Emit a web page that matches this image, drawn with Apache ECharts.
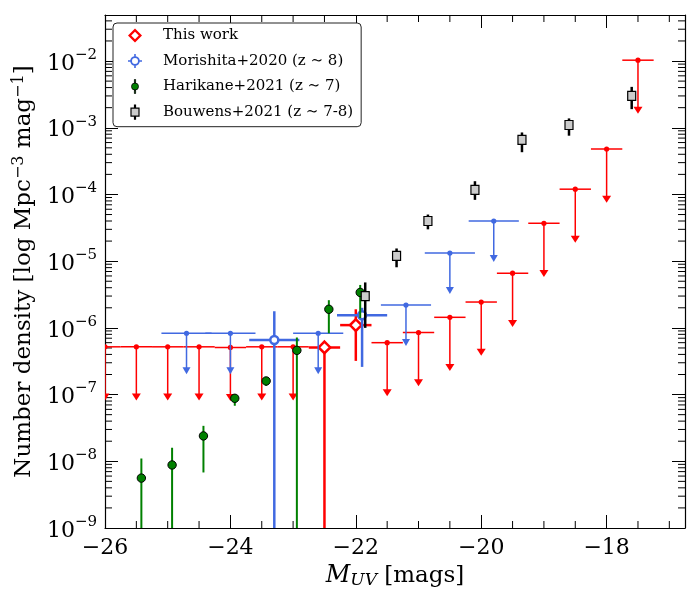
<!DOCTYPE html>
<html><head><meta charset="utf-8">
<script src="https://cdn.jsdelivr.net/npm/echarts@6/dist/echarts.min.js"></script>
<style>html,body{margin:0;padding:0;background:#fff}#c{width:700px;height:600px}</style>
</head><body><div id="c"></div><script>
// ---------- axis ranges & ticks ----------
const X_MIN = -26, X_MAX = -16.75, Y_MIN = 1e-9, Y_MAX = 0.049;
const xMinorTicks = [-25.5,-25,-24.5,-23.5,-23,-22.5,-21.5,-21,-20.5,-19.5,-19,-18.5,-17.5,-17];
const yDecades = [1e-9,1e-8,1e-7,1e-6,1e-5,1e-4,1e-3,1e-2];
const yMinorMult = [2,3,4,5,6,7,8,9];

// ---------- This work ----------
const twLimX = [-26,-25.5,-25,-24.5,-24,-23.5,-23,-21.5,-21,-20.5,-20,-19.5,-19,-18.5,-18,-17.5];
const twLimY = [5.2e-7,5.2e-7,5.2e-7,5.2e-7,5.1e-7,5.2e-7,5.2e-7,6.0e-7,8.5e-7,1.44e-6,2.44e-6,6.6e-6,3.7e-5,1.2e-4,4.8e-4,1.03e-2];
const twLimXerr = 0.25;
const twLimTipFrac = 0.18;
const twX = [-22.5, -22.0];
const twY = [5.1e-7, 1.1e-6];
const twLo = [0, 3.2e-7];
const twHi = [5.1e-7, 1.9e-6];
const twXerr = [0.25, 0.25];

// ---------- Morishita+2020 ----------
const moLimX = [-24.7,-24.0,-22.6,-21.2,-20.5,-19.8];
const moLimY = [8.3e-7,8.3e-7,8.3e-7,2.2e-6,1.32e-5,4.0e-5];
const moLimXerr = 0.4;
const moLimTipFrac = 0.28;
const moX = [-23.3, -21.9];
const moY = [6.6e-7, 1.55e-6];
const moLo = [0, 2.6e-7];
const moHi = [1.78e-6, 2.0e-6];
const moXerr = [0.4, 0.4];

// ---------- Harikane+2021 ----------
const haX = [-25.42,-24.93,-24.43,-23.93,-23.43,-22.94,-22.43,-21.93];
const haY = [5.6e-9,8.8e-9,2.4e-8,8.8e-8,1.6e-7,4.6e-7,1.9e-6,3.4e-6];
const haLo = [0,0,6.8e-9,6.8e-8,1.35e-7,0,8.3e-7,1.4e-6];
const haHi = [1.1e-8,1.6e-8,3.4e-8,1.0e-7,1.8e-7,7.2e-7,2.6e-6,4.4e-6];

// ---------- Bouwens+2021 ----------
const boX = [-21.85,-21.35,-20.85,-20.10,-19.35,-18.60,-17.60];
const boY = [3.0e-6,1.2e-5,4.0e-5,1.17e-4,6.6e-4,1.1e-3,3.0e-3];
const boLo = [1.0e-6,8.1e-6,3.0e-5,8.3e-5,4.3e-4,7.6e-4,1.9e-3];
const boHi = [4.8e-6,1.55e-5,5.0e-5,1.58e-4,8.5e-4,1.38e-3,4.1e-3];

const names = ['This work', 'Morishita+2020 (z \u223C 8)', 'Harikane+2021 (z \u223C 7)', 'Bouwens+2021 (z \u223C 7-8)'];

const RED = '#ff0000', BLUE = '#4169e1', GREEN = '#008000', GRAY = '#cccccc';
const SERIF = 'DejaVu Serif';
const FLOOR = 1e-13;

function measureSeries(name, xs, ys, los, his, xerrs, st) {
  const data = xs.map((x, i) => [x, ys[i], los[i], his[i], xerrs ? xerrs[i] : 0]);
  return {
    type: 'custom', name, coordinateSystem: 'cartesian2d', encode: {x: 0, y: 1},
    clip: true, silent: true, data, itemStyle: {color: st.color},
    renderItem(params, api) {
      const x = api.value(0), y = api.value(1), lo = api.value(2), hi = api.value(3), xe = api.value(4);
      const c = api.coord([x, y]);
      const pl = api.coord([x, Math.max(lo, FLOOR)]);
      const ph = api.coord([x, Math.max(hi, FLOOR)]);
      const ls = {stroke: st.bar, lineWidth: st.barWidth};
      const ch = [];
      if (xe > 0) {
        const a = api.coord([x - xe, y]), b = api.coord([x + xe, y]);
        ch.push({type: 'line', shape: {x1: a[0], y1: a[1], x2: b[0], y2: b[1]}, style: ls});
      }
      ch.push({type: 'line', shape: {x1: c[0], y1: pl[1], x2: c[0], y2: ph[1]}, style: ls});
      ch.push(st.marker(c[0], c[1]));
      return {type: 'group', children: ch};
    }
  };
}

function limitSeries(name, xs, ys, xerr, frac, st) {
  const data = xs.map((x, i) => [x, ys[i], ys[i] * frac, xerr]);
  return {
    type: 'custom', name, coordinateSystem: 'cartesian2d', encode: {x: 0, y: 1},
    clip: true, silent: true, data, itemStyle: {color: st.color},
    renderItem(params, api) {
      const x = api.value(0), y = api.value(1), t = api.value(2), xe = api.value(3);
      const c = api.coord([x, y]);
      const p = api.coord([x, t]);
      const a = api.coord([x - xe, y]), b = api.coord([x + xe, y]);
      const ls = {stroke: st.color, lineWidth: 1.5};
      const w = st.triW, hUp = st.triUp, hDn = st.triDn;
      return {type: 'group', children: [
        {type: 'line', shape: {x1: a[0], y1: a[1], x2: b[0], y2: b[1]}, style: ls},
        {type: 'line', shape: {x1: c[0], y1: c[1], x2: p[0], y2: p[1]}, style: ls},
        {type: 'circle', shape: {cx: c[0], cy: c[1], r: 2.6}, style: {fill: st.color}},
        {type: 'polygon', shape: {points: [[p[0] - w, p[1] - hUp], [p[0] + w, p[1] - hUp], [p[0], p[1] + hDn]]}, style: {fill: st.color}}
      ]};
    }
  };
}

// minor ticks drawn at axis positions through the axis scales
const xMinorData = xMinorTicks.map(v => [v, Y_MIN]);
const yMinorData = [];
yDecades.forEach(d => yMinorMult.forEach(m => { const v = m * d; if (v < Y_MAX) yMinorData.push([X_MIN, v]); }));

const MINOR = 7, MAJOR = 13;
const tickStyle = {stroke: '#000', lineWidth: 1};

const series = [
  {
    type: 'custom', name: 'xminor', coordinateSystem: 'cartesian2d', encode: {x: 0, y: 1}, silent: true,
    data: xMinorData,
    renderItem(params, api) {
      const v = api.value(0);
      const b = api.coord([v, Y_MIN]), t = api.coord([v, Y_MAX]);
      return {type: 'group', children: [
        {type: 'line', shape: {x1: b[0], y1: b[1], x2: b[0], y2: b[1] - MINOR}, style: tickStyle},
        {type: 'line', shape: {x1: t[0], y1: t[1], x2: t[0], y2: t[1] + MINOR}, style: tickStyle}
      ]};
    }
  },
  {
    type: 'custom', name: 'yminor', coordinateSystem: 'cartesian2d', encode: {x: 0, y: 1}, silent: true,
    data: yMinorData,
    renderItem(params, api) {
      const v = api.value(1);
      const l = api.coord([X_MIN, v]), r = api.coord([X_MAX, v]);
      return {type: 'group', children: [
        {type: 'line', shape: {x1: l[0], y1: l[1], x2: l[0] + MINOR, y2: l[1]}, style: tickStyle},
        {type: 'line', shape: {x1: r[0], y1: r[1], x2: r[0] - MINOR, y2: r[1]}, style: tickStyle}
      ]};
    }
  },
  limitSeries(names[0], twLimX, twLimY, twLimXerr, twLimTipFrac, {color: RED, triW: 4.5, triUp: 3, triDn: 4}),
  measureSeries(names[0], twX, twY, twLo, twHi, twXerr, {color: RED, bar: RED, barWidth: 2.5,
    marker: (x, y) => ({type: 'polygon', shape: {points: [[x, y - 5.8], [x + 5.8, y], [x, y + 5.8], [x - 5.8, y]]}, style: {fill: '#fff', stroke: RED, lineWidth: 2.5}})}),
  limitSeries(names[1], moLimX, moLimY, moLimXerr, moLimTipFrac, {color: BLUE, triW: 4, triUp: 3, triDn: 4}),
  measureSeries(names[1], moX, moY, moLo, moHi, moXerr, {color: BLUE, bar: BLUE, barWidth: 2.5,
    marker: (x, y) => ({type: 'circle', shape: {cx: x, cy: y, r: 4}, style: {fill: '#fff', stroke: BLUE, lineWidth: 2.5}})}),
  measureSeries(names[2], haX, haY, haLo, haHi, null, {color: GREEN, bar: GREEN, barWidth: 2,
    marker: (x, y) => ({type: 'circle', shape: {cx: x, cy: y, r: 4.2}, style: {fill: GREEN, stroke: '#000', lineWidth: 1}})}),
  measureSeries(names[3], boX, boY, boLo, boHi, null, {color: '#000', bar: '#000', barWidth: 2.5,
    marker: (x, y) => ({type: 'rect', shape: {x: x - 4, y: y - 4.5, width: 8, height: 9}, style: {fill: GRAY, stroke: '#000', lineWidth: 1.2}})})
];

const ICON_TW = 'path://M7 0 L14 7 L7 14 L0 7 Z M7 3.2 L3.2 7 L7 10.8 L10.8 7 Z';
const ICON_MO = 'path://M0 6.2 L2.4 6.2 L2.4 7.8 L0 7.8 Z M11.6 6.2 L14 6.2 L14 7.8 L11.6 7.8 Z M6.2 0 L7.8 0 L7.8 2.4 L6.2 2.4 Z M6.2 11.6 L7.8 11.6 L7.8 14 L6.2 14 Z M11.8 7 A4.8 4.8 0 1 1 2.2 7 A4.8 4.8 0 1 1 11.8 7 Z M10 7 A3 3 0 1 0 4 7 A3 3 0 1 0 10 7 Z';
const ICON_HA = 'path://M7 7 A3.5 3.5 0 1 1 0 7 A3.5 3.5 0 1 1 7 7 Z M2.9 0 L4.1 0 L4.1 3.5 L2.9 3.5 Z M2.9 10.5 L4.1 10.5 L4.1 14 L2.9 14 Z';
const ICON_BO = 'path://M0 3 L8 3 L8 11 L0 11 Z M3.5 0 L4.5 0 L4.5 3 L3.5 3 Z M3.5 11 L4.5 11 L4.5 14 L3.5 14 Z';

const xLabelFmt = v => (Math.abs(v / 2 - Math.round(v / 2)) > 1e-6) ? '' : String(v).replace('-', '\u2212');
const yLabelFmt = v => {
  const e = Math.log10(v), r = Math.round(e);
  if (Math.abs(e - r) > 1e-6) return '';
  return '{b|10}{s|' + (r < 0 ? '\u2212' : '') + Math.abs(r) + '}';
};

const axisLineStyle = {color: '#000', width: 1.2};

const option = {
  animation: false,
  backgroundColor: '#fff',
  grid: {left: 105, right: 15, top: 15, bottom: 72, containLabel: false},
  xAxis: [
    {
      type: 'value', min: X_MIN, max: X_MAX, interval: 2, position: 'bottom',
      axisLine: {show: true, onZero: false, lineStyle: axisLineStyle},
      axisTick: {show: true, inside: true, length: MAJOR, lineStyle: {color: '#000', width: 1}},
      axisLabel: {formatter: xLabelFmt, fontFamily: SERIF, fontSize: 22, color: '#000', margin: 9},
      splitLine: {show: false},
      name: '{i|M}{sub|UV}{n| [mags]}', nameLocation: 'middle', nameGap: 25,
      nameTextStyle: {fontFamily: SERIF, fontSize: 23, color: '#000',
        rich: {i: {fontFamily: SERIF, fontSize: 24, fontStyle: 'italic', color: '#000'},
               sub: {fontFamily: SERIF, fontSize: 17, fontStyle: 'italic', color: '#000', padding: [10, 0, 0, 0]},
               n: {fontFamily: SERIF, fontSize: 23, color: '#000'}}}
    },
    {
      type: 'value', min: X_MIN, max: X_MAX, interval: 2, position: 'top',
      axisLine: {show: true, onZero: false, lineStyle: axisLineStyle},
      axisTick: {show: true, inside: true, length: MAJOR, lineStyle: {color: '#000', width: 1}},
      axisLabel: {show: false}, splitLine: {show: false}
    }
  ],
  yAxis: [
    {
      type: 'log', logBase: 10, min: Y_MIN, max: Y_MAX, splitNumber: 8, position: 'left',
      axisLine: {show: true, onZero: false, lineStyle: axisLineStyle},
      axisTick: {show: true, inside: true, length: MAJOR, lineStyle: {color: '#000', width: 1}},
      axisLabel: {formatter: yLabelFmt, margin: 8, color: '#000',
        rich: {b: {fontFamily: SERIF, fontSize: 22, color: '#000', padding: [6, 0, 0, 0]},
               s: {fontFamily: SERIF, fontSize: 15, color: '#000', padding: [0, 0, 12, 0]}}},
      splitLine: {show: false},
      name: 'Number density [log Mpc{sup|\u22123} mag{sup|\u22121}]',
      nameLocation: 'middle', nameRotate: 90, nameGap: 63,
      nameTextStyle: {fontFamily: SERIF, fontSize: 23, color: '#000',
        rich: {sup: {fontFamily: SERIF, fontSize: 16, color: '#000', padding: [0, 0, 12, 0]}}}
    },
    {
      type: 'log', logBase: 10, min: Y_MIN, max: Y_MAX, splitNumber: 8, position: 'right',
      axisLine: {show: true, onZero: false, lineStyle: axisLineStyle},
      axisTick: {show: true, inside: true, length: MAJOR, lineStyle: {color: '#000', width: 1}},
      axisLabel: {show: false}, splitLine: {show: false}
    }
  ],
  legend: {
    orient: 'vertical', left: 113, top: 23, selectedMode: false,
    padding: [5, 8, 7, 15], itemGap: 10.5, itemWidth: 14, itemHeight: 14,
    backgroundColor: '#fff', borderColor: '#222', borderWidth: 1, borderRadius: 4,
    textStyle: {fontFamily: SERIF, fontSize: 15, color: '#000', lineHeight: 14, padding: [0, 0, 0, 16]},
    data: [
      {name: names[0], icon: ICON_TW, itemStyle: {color: RED, borderWidth: 0}},
      {name: names[1], icon: ICON_MO, itemStyle: {color: BLUE, borderWidth: 0}},
      {name: names[2], icon: ICON_HA, itemStyle: {color: GREEN, borderColor: '#000', borderWidth: 0.8}},
      {name: names[3], icon: ICON_BO, itemStyle: {color: GRAY, borderColor: '#000', borderWidth: 1.2}}
    ]
  },
  series: series.map((s, i) => Object.assign(s, {z: 2 + i}))
};

const chart = echarts.init(document.getElementById('c'));
chart.setOption(option);
</script></body></html>
